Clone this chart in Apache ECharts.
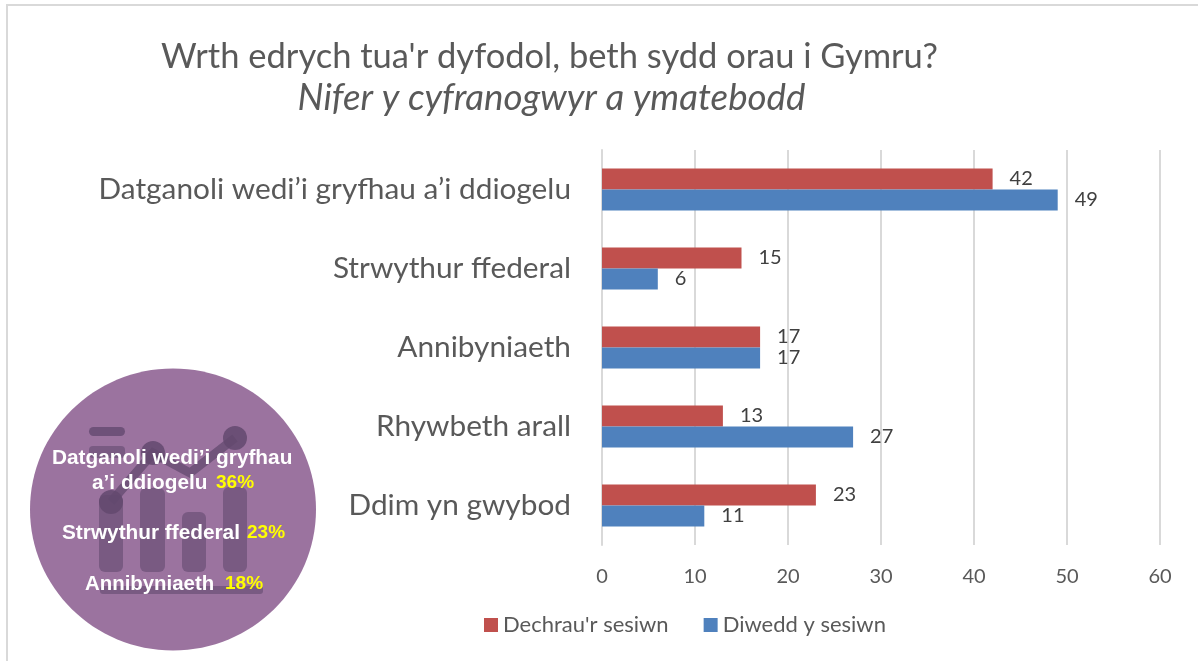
<!DOCTYPE html>
<html><head><meta charset="utf-8">
<style>html,body{margin:0;padding:0;background:#fff}#c{width:1198px;height:661px}</style>
<script src="https://cdn.jsdelivr.net/npm/echarts@6/dist/echarts.min.js"></script>
</head><body><div id="c"></div>
<script>
const categories = ["Datganoli wedi’i gryfhau a’i ddiogelu","Strwythur ffederal","Annibyniaeth","Rhywbeth arall","Ddim yn gwybod"];
const dechrau = [42,15,17,13,23];
const diwedd = [49,6,17,27,11];
const seriesNames = ["Dechrau'r sesiwn","Diwedd y sesiwn"];
const titleLines = ["Wrth edrych tua'r dyfodol, beth sydd orau i Gymru?","Nifer y cyfranogwyr a ymatebodd"];
const font = 'Lato,"Open Sans",sans-serif';
const chart = echarts.init(document.getElementById('c'));
const labelStyle = {show:true,position:'right',distance:17,color:'#404040',fontSize:20,fontFamily:font};
const darkIcon = '#63496f';
function bar(x,y,w,h,r,o){return {type:'rect',shape:{x,y,width:w,height:h,r:r===undefined?6:r},style:{fill:darkIcon,opacity:o||0.6},silent:true};}
function txt(parts,y){
  return parts.map(p=>({type:'text',x:p.x,y,style:{text:p.t,fill:p.c,font:'bold '+(p.s||20.8)+'px "Liberation Sans",Arial,sans-serif',textAlign:'left',textVerticalAlign:'middle',shadowBlur:2,shadowColor:'rgba(0,0,0,0.9)',shadowOffsetX:2,shadowOffsetY:2},silent:true}));
}
chart.setOption({
  animation:false,
  backgroundColor:'#fff',
  title:[
    {text:titleLines[0],left:544.5,top:34,textAlign:'center',textStyle:{fontFamily:font,fontWeight:'normal',fontSize:34.5,color:'#595959'}},
    {text:titleLines[1],left:546.5,top:75,textAlign:'center',textStyle:{fontFamily:font,fontWeight:'normal',fontStyle:'italic',fontSize:36.7,color:'#595959'}}
  ],
  legend:{
    left:479,top:609,itemWidth:14,itemHeight:14,itemGap:35,icon:'rect',
    data:seriesNames,
    textStyle:{fontFamily:font,fontSize:22,color:'#595959'}
  },
  grid:{left:602,top:150,width:558,height:395,containLabel:false},
  xAxis:{type:'value',min:0,max:60,interval:10,
    axisLine:{show:false},axisTick:{show:false},
    axisLabel:{color:'#595959',fontSize:20,fontFamily:font,margin:22},
    splitLine:{lineStyle:{color:'#d9d9d9',width:2}}},
  yAxis:{type:'category',inverse:true,data:categories,
    axisLine:{show:true,lineStyle:{color:'#d9d9d9',width:2}},axisTick:{show:false},
    axisLabel:{color:'#595959',fontSize:29.8,fontFamily:font,margin:31}},
  series:[
    {name:seriesNames[0],type:'bar',data:dechrau,barWidth:21,barGap:'0%',itemStyle:{color:'#c0504d'},label:labelStyle},
    {name:seriesNames[1],type:'bar',data:diwedd,barWidth:21,itemStyle:{color:'#4f81bd'},label:labelStyle}
  ],
  graphic:[
    {type:'rect',shape:{x:7,y:5,width:1300,height:800},style:{fill:'none',stroke:'#d9d9d9',lineWidth:2},silent:true},
    {type:'ellipse',shape:{cx:173,cy:509.5,rx:143,ry:141},style:{fill:'#9b739f'},silent:true},
    bar(89,427,36,9,4.5,0.8),bar(89,446,36,12,4,0.6),
    bar(99,495,24,77),bar(140,488,25,84),bar(182,512,24,60),bar(223,487,24,85),
    bar(100,586,163,8,3,0.6),
    {type:'polyline',shape:{points:[[111,502],[153,453],[190,473],[235,438]]},style:{stroke:darkIcon,lineWidth:9,fill:'none',opacity:0.75},silent:true},
    {type:'circle',shape:{cx:111,cy:502,r:12},style:{fill:darkIcon,opacity:0.85},silent:true},
    {type:'circle',shape:{cx:153,cy:453,r:12},style:{fill:darkIcon,opacity:0.85},silent:true},
    {type:'circle',shape:{cx:235,cy:438,r:12},style:{fill:darkIcon,opacity:0.85},silent:true},
    ...txt([{t:'Datganoli wedi’i gryfhau',x:52,c:'#fff'}],458),
    ...txt([{t:'a’i ddiogelu',x:92,c:'#fff'},{t:'36%',x:216,c:'#ffff00',s:19}],483),
    ...txt([{t:'Strwythur ffederal',x:62,c:'#fff'},{t:'23%',x:247,c:'#ffff00',s:19}],533),
    ...txt([{t:'Annibyniaeth',x:85,c:'#fff',s:20.4},{t:'18%',x:225,c:'#ffff00',s:19}],584)
  ]
});
</script></body></html>
